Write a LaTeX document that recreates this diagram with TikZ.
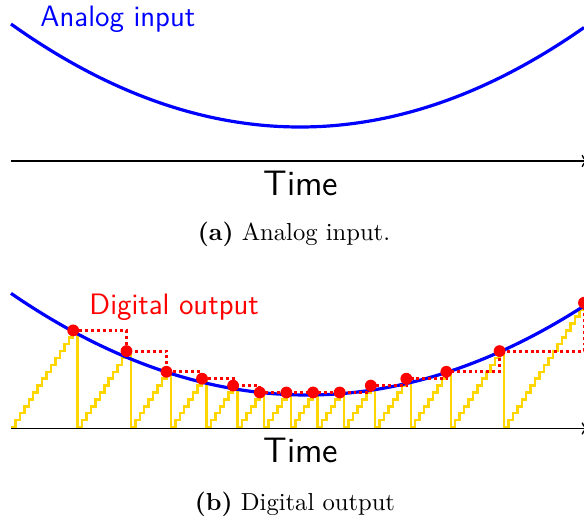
\documentclass[tikz,border=0pt]{standalone}
\usetikzlibrary{arrows.meta}
\definecolor{stairgold}{RGB}{255,214,0}
\def\stepw{4.4419}
\def\steph{6.9}
\tikzset{
  axisline/.style={line width=0.55pt, black, -{To[length=3pt,width=5pt]}},
  analog/.style={line width=1.3pt, blue},
  stair/.style={line width=1pt, stairgold, line join=miter},
  hold/.style={line width=1.2pt, red, dash pattern=on 1.2pt off 1.2pt},
  sample/.style={red},
  lbl/.style={inner sep=0pt, font=\sffamily\fontsize{12}{14}\selectfont},
  timelbl/.style={inner sep=0pt, anchor=base, font=\sffamily\fontsize{14.4}{17}\selectfont},
  captext/.style={inner sep=0pt, anchor=base, font=\normalsize}
}
\begin{document}
\begin{tikzpicture}[x=0.4065pt, y=-0.4065pt]
\useasboundingbox (0,0) rectangle (584,521);

% ---------- (a) analog input ----------
\draw[analog] plot[domain=11:584, samples=120, smooth] (\x, {127-12.33*((\x-300)/100)^2});
\draw[axisline] (11,161) coordinate (a0) -- (589,161) coordinate (a1);
\node[lbl, anchor=base west, text=blue] (ain) at (40,27) {Analog input};
\node[timelbl] (ta) at (301,196) {Time};
\node[captext] (capa) at (294,241) {\textbf{(a)} Analog input.};

% ---------- (b) digital output ----------
\draw[stair] (11,427)
  foreach \rs/\rn in {0/14,15/11,27/8,36/7,44/6,51/5,57/5,63/5,69/5,75/6,82/7,90/8,99/11,111/18} {
    foreach \rk in {1,...,\rn} { -| ({11+(\rs+\rk)*\stepw},{427-\rk*\steph}) }
    -- ({11+(\rs+\rn+1)*\stepw},{427-\rn*\steph}) -- ({11+(\rs+\rn+1)*\stepw},427)
  };
\draw[analog] plot[domain=11:584, samples=120, smooth] (\x, {395-11.6*((\x-307)/100)^2});
\draw[hold] ({11+14*\stepw},{427-14*\steph})
  foreach \rt/\rn in {26/11,35/8,43/7,50/6,56/5,62/5,68/5,74/5,81/6,89/7,98/8,110/11,129/18} {
    -| ({11+\rt*\stepw},{427-\rn*\steph})
  };
\foreach \rt/\rn in {14/14,26/11,35/8,43/7,50/6,56/5,62/5,68/5,74/5,81/6,89/7,98/8,110/11,129/18}
  \fill[sample] ({11+\rt*\stepw},{427-\rn*\steph}) circle (2.4pt);
\draw[axisline] (11,428.5) coordinate (b0) -- (589,428.5) coordinate (b1);
\node[lbl, anchor=base west, text=red] (dout) at (89,315) {Digital output};
\node[timelbl] (tb) at (301,463) {Time};
\node[captext] (capb) at (295,511) {\textbf{(b)} Digital output};
\end{tikzpicture}
\end{document}
